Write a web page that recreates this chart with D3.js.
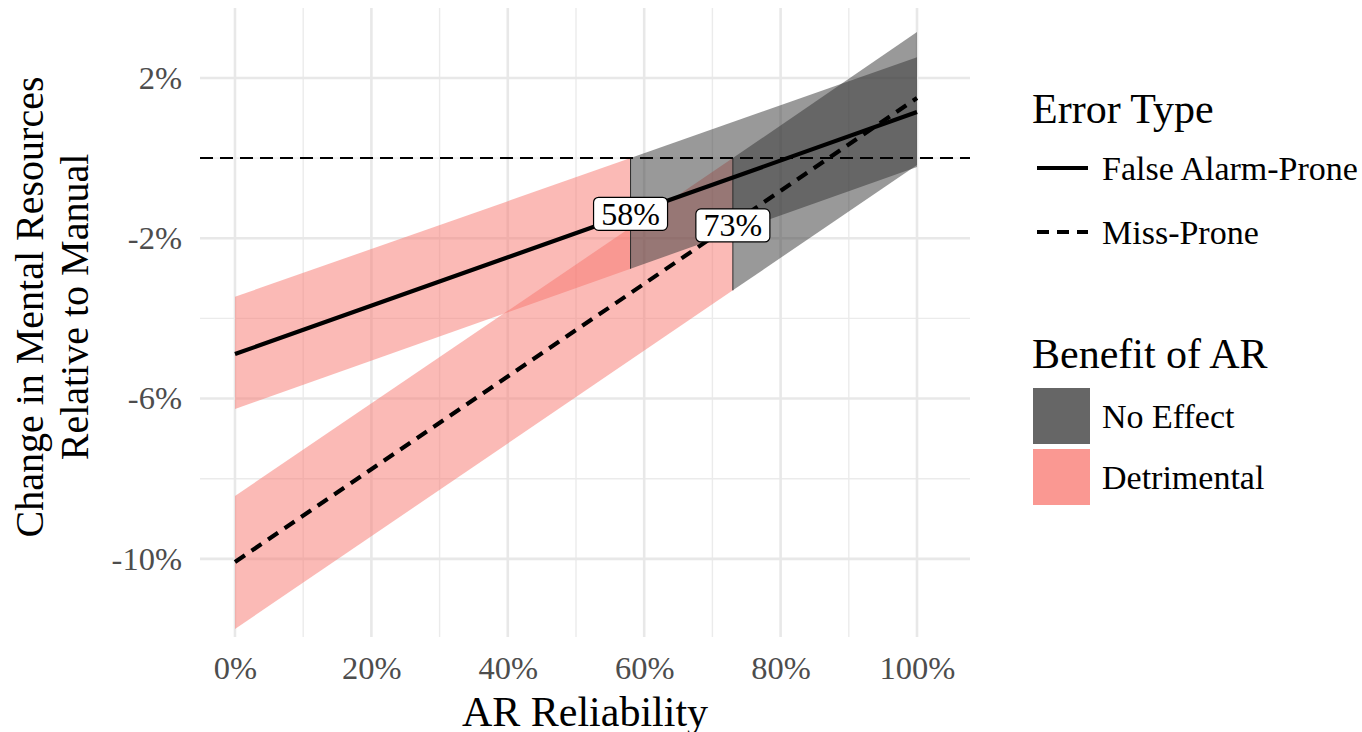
<!DOCTYPE html>
<html>
<head>
<meta charset="utf-8">
<script src="https://cdn.jsdelivr.net/npm/d3@7"></script>
</head>
<body style="margin:0;padding:0;background:#fff">
<svg id="chart" width="1362" height="732"></svg>
<script>
// ---- Data ----
// False Alarm-Prone: x positions (reliability), fitted change (%), CI low/high (%)
const faX    = [0, 0.58, 1];
const faFit  = [-4.89, -1.39, 1.15];
const faLo   = [-6.26, -2.76, -0.22];
const faHi   = [-3.46, 0.00, 2.52];
// Miss-Prone
const missX   = [0, 0.73, 1];
const missFit = [-10.08, -1.63, 1.50];
const missLo  = [-11.75, -3.30, -0.17];
const missHi  = [-8.43, 0.00, 3.15];
// thresholds where AR stops being detrimental
const thresholds = [0.58, 0.73];
const thresholdLabels = ["58%", "73%"];
// ticks
const xTicks = [0, 0.2, 0.4, 0.6, 0.8, 1.0];
const xMinor = [0.1, 0.3, 0.5, 0.7, 0.9];
const yTicks = [2, -2, -6, -10];
const yMinor = [0, -4, -8];
const errorTypes = ["False Alarm-Prone", "Miss-Prone"];
const benefitLevels = ["No Effect", "Detrimental"];

const FONT = "Liberation Serif";

// ---- Scales ----
const svg = d3.select("#chart");
const x = d3.scaleLinear().domain([-0.0513, 1.0777]).range([200, 970]);
const y = d3.scaleLinear().domain([-11.95, 3.746]).range([637, 8]);
const [px0, px1] = x.range();
const [py1, py0] = y.range();

const PINK = "#F8766D", GREY = "#333333";
const TEXTGREY = "#4D4D4D";

// ---- Grid ----
const grid = svg.append("g");
grid.selectAll(".vmin").data(xMinor).join("line")
  .attr("x1", d => x(d)).attr("x2", d => x(d)).attr("y1", py0).attr("y2", py1)
  .attr("stroke", "#EBEBEB").attr("stroke-width", 1.4);
grid.selectAll(".hmin").data(yMinor).join("line")
  .attr("y1", d => y(d)).attr("y2", d => y(d)).attr("x1", px0).attr("x2", px1)
  .attr("stroke", "#EBEBEB").attr("stroke-width", 1.4);
grid.selectAll(".vmaj").data(xTicks).join("line")
  .attr("x1", d => x(d)).attr("x2", d => x(d)).attr("y1", py0).attr("y2", py1)
  .attr("stroke", "#E8E8E8").attr("stroke-width", 2.6);
grid.selectAll(".hmaj").data(yTicks).join("line")
  .attr("y1", d => y(d)).attr("y2", d => y(d)).attr("x1", px0).attr("x2", px1)
  .attr("stroke", "#E8E8E8").attr("stroke-width", 2.6);

// ---- Ribbons ----
function seg(xs, lo, hi, from, to) {
  const pts = [];
  for (let i = from; i <= to; i++) pts.push({x: xs[i], lo: lo[i], hi: hi[i]});
  return pts;
}
const area = d3.area().x(d => x(d.x)).y0(d => y(d.lo)).y1(d => y(d.hi));
const ribbons = [
  {pts: seg(faX, faLo, faHi, 0, 1), fill: PINK},
  {pts: seg(missX, missLo, missHi, 0, 1), fill: PINK},
  {pts: seg(faX, faLo, faHi, 1, 2), fill: GREY},
  {pts: seg(missX, missLo, missHi, 1, 2), fill: GREY},
];
svg.append("g").selectAll("path").data(ribbons).join("path")
  .attr("d", d => area(d.pts)).attr("fill", d => d.fill).attr("fill-opacity", 0.5);

// threshold vertical edges
const edges = [
  {x: faX[1], lo: faLo[1], hi: faHi[1]},
  {x: missX[1], lo: missLo[1], hi: missHi[1]},
];
svg.append("g").selectAll("line").data(edges).join("line")
  .attr("x1", d => x(d.x)).attr("x2", d => x(d.x))
  .attr("y1", d => y(d.hi)).attr("y2", d => y(d.lo))
  .attr("stroke", "#2b2b2b").attr("stroke-width", 1);

// zero reference line
svg.append("line")
  .attr("x1", px0).attr("x2", px1).attr("y1", y(0)).attr("y2", y(0))
  .attr("stroke", "#000").attr("stroke-width", 2).attr("stroke-dasharray", "13,7");

// ---- Fit lines ----
const line = d3.line().x(d => x(d[0])).y(d => y(d[1]));
svg.append("path").datum(faX.map((v, i) => [v, faFit[i]]))
  .attr("d", line).attr("fill", "none").attr("stroke", "#000").attr("stroke-width", 4.2);
svg.append("path").datum(missX.map((v, i) => [v, missFit[i]]))
  .attr("d", line).attr("fill", "none").attr("stroke", "#000").attr("stroke-width", 4.2)
  .attr("stroke-dasharray", "12,8");

// ---- Threshold labels ----
const labelData = [
  {x: thresholds[0], v: faFit[1], t: thresholdLabels[0], dy: 0},
  {x: thresholds[1], v: missFit[1], t: thresholdLabels[1], dy: 2},
];
const lg = svg.append("g").selectAll("g").data(labelData).join("g")
  .attr("transform", d => `translate(${x(d.x)},${y(d.v) + d.dy})`);
lg.append("rect").attr("x", -37).attr("y", -16.5).attr("width", 74).attr("height", 33)
  .attr("rx", 5).attr("fill", "#fff").attr("stroke", "#000").attr("stroke-width", 1.2);
lg.append("text").attr("text-anchor", "middle").attr("dy", "0.34em")
  .attr("font-size", 32).attr("fill", "#000").text(d => d.t);

// ---- Axes ----
const xAxis = d3.axisBottom(x).tickValues(xTicks).tickSize(0).tickPadding(19)
  .tickFormat(d3.format(".0%"));
const gx = svg.append("g").attr("transform", `translate(0,${py1})`).call(xAxis);
gx.select(".domain").remove();
gx.selectAll("text").attr("font-size", 32.5).attr("fill", TEXTGREY);

const yAxis = d3.axisLeft(y).tickValues(yTicks).tickSize(0).tickPadding(18)
  .tickFormat(d => `${d}%`);
const gy = svg.append("g").attr("transform", `translate(${px0},0)`).call(yAxis);
gy.select(".domain").remove();
gy.selectAll("text").attr("font-size", 32.5).attr("fill", TEXTGREY);

// axis titles
svg.append("text").attr("x", (px0 + px1) / 2).attr("y", 726)
  .attr("text-anchor", "middle").attr("font-size", 42).attr("fill", "#000")
  .text("AR Reliability");
const ytitle = ["Change in Mental Resources", "Relative to Manual"];
svg.append("g").selectAll("text").data(ytitle).join("text")
  .attr("transform", (d, i) => `translate(${43 + i * 45},307) rotate(-90)`)
  .attr("text-anchor", "middle").attr("font-size", 40).attr("fill", "#000")
  .text(d => d);

// ---- Legend ----
const leg = svg.append("g");
leg.append("text").attr("x", 1032).attr("y", 123).attr("font-size", 42).text("Error Type");
const lineKeys = leg.selectAll(".lk").data(errorTypes).join("g")
  .attr("transform", (d, i) => `translate(1037,${168 + i * 64})`);
lineKeys.append("line").attr("x1", 0).attr("x2", 51).attr("y1", 0).attr("y2", 0)
  .attr("stroke", "#000").attr("stroke-width", 4.2)
  .attr("stroke-dasharray", (d, i) => i === 0 ? null : "12,8");
lineKeys.append("text").attr("x", 65).attr("dy", "0.34em").attr("font-size", 34).text(d => d);

leg.append("text").attr("x", 1032).attr("y", 368).attr("font-size", 42).text("Benefit of AR");
const fillKeys = leg.selectAll(".fk").data(benefitLevels).join("g")
  .attr("transform", (d, i) => `translate(1033,${388 + i * 61})`);
fillKeys.append("rect").attr("width", 57).attr("height", 56)
  .attr("fill", (d, i) => i === 0 ? GREY : PINK).attr("fill-opacity", 0.75);
fillKeys.append("text").attr("x", 69).attr("y", 28).attr("dy", "0.34em")
  .attr("font-size", 34).text(d => d);

// apply the serif font to every text
svg.selectAll("text").attr("font-family", FONT).style("font-family", FONT);
</script>
</body>
</html>
